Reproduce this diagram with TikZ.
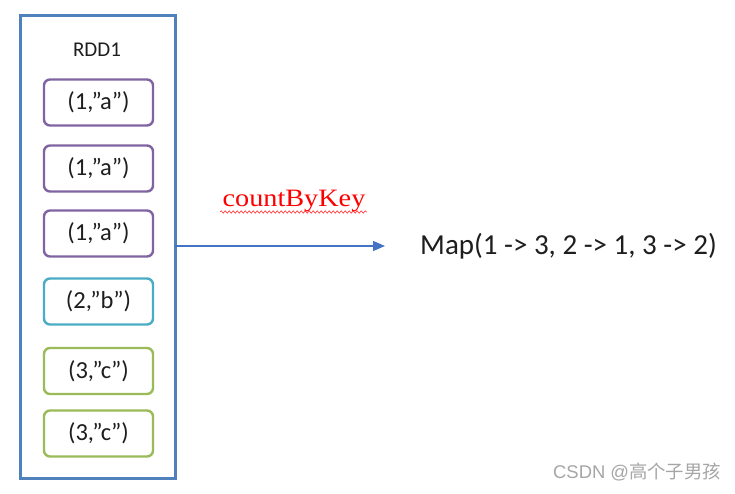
\documentclass[tikz,border=0pt]{standalone}
\usepackage{fontspec}
\setmainfont{Carlito}
\newfontfamily\serifred{Liberation Serif}
\newfontfamily\cjk{Noto Sans CJK SC}
\usetikzlibrary{arrows.meta,decorations.pathmorphing}
\definecolor{outerblue}{RGB}{79,129,189}
\definecolor{arrowblue}{RGB}{68,114,196}
\definecolor{rpurple}{RGB}{128,100,162}
\definecolor{rcyan}{RGB}{75,172,198}
\definecolor{rgreen}{RGB}{155,187,89}
\definecolor{txt}{RGB}{30,30,30}
\tikzset{
  rec/.style={draw, line width=2.4pt, rounded corners=6pt, minimum width=109pt, minimum height=46pt, font=\fontsize{24.5}{28}\selectfont, text=txt, inner sep=0pt},
}
\begin{document}
\begin{tikzpicture}[x=1pt,y=-1pt]
\useasboundingbox (0,0) rectangle (735,494);
\fill[white] (0,0) rectangle (735,494);
\node[draw=outerblue, line width=3pt, minimum width=155pt, minimum height=462pt, inner sep=0pt] (rdd) at (97.5,247) {};
\node[font=\fontsize{21}{24}\selectfont, text=txt] (title) at (97,50) {RDD1};
\node[rec, draw=rpurple] (b1) at (98.5,102.5) {(1,”a”)};
\node[rec, draw=rpurple] (b2) at (98.5,168.5) {(1,”a”)};
\node[rec, draw=rpurple] (b3) at (98.5,233.5) {(1,”a”)};
\node[rec, draw=rcyan] (b4) at (98.5,301.5) {(2,”b”)};
\node[rec, draw=rgreen] (b5) at (98.5,371) {(3,”c”)};
\node[rec, draw=rgreen] (b6) at (98.5,433.5) {(3,”c”)};
\coordinate (start) at (175,246);
\node[anchor=west, font=\fontsize{29}{34}\selectfont, text=txt, inner sep=0pt] (map) at (420,246) {Map(1 -> 3, 2 -> 1, 3 -> 2)};
\coordinate (tip) at (385,246);
\draw[arrowblue, line width=1.2pt, -{Triangle[length=12pt,width=10pt]}] (start) -- (tip);
\node[red, font=\serifred\fontsize{25}{28}\selectfont, xscale=1.13, inner sep=0pt, anchor=base] (cbk) at (294,207) {countByKey};
\draw[red!80, line width=0.6pt, decorate, decoration={snake, amplitude=1.2pt, segment length=4pt}] (220,212) -- (367,212);
\node[gray!70, font=\fontsize{18.4}{21}\selectfont, anchor=west, inner sep=0pt] (wm) at (553,472) {\fontspec{Liberation Sans}CSDN @\cjk 高个子男孩};
\end{tikzpicture}
\end{document}
